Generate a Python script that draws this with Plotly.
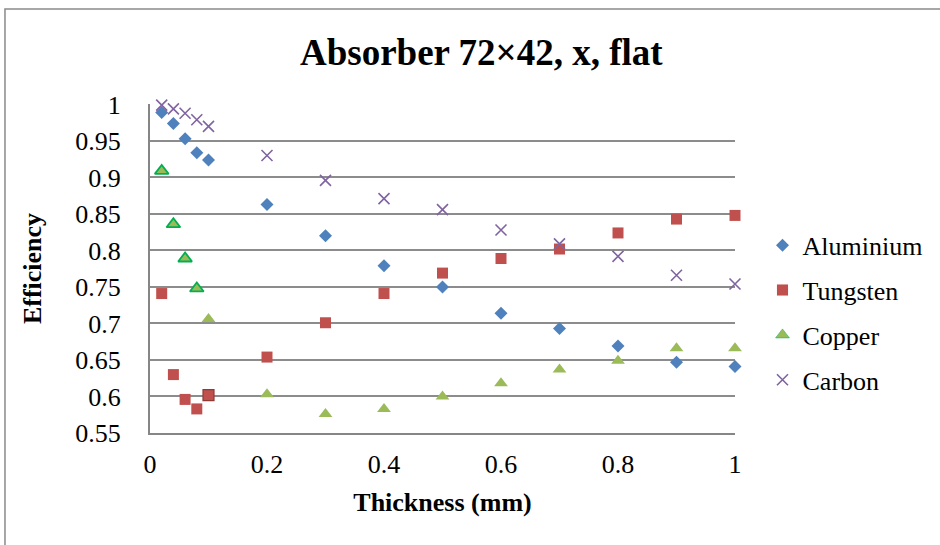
import plotly.graph_objects as go

thickness = [0.02, 0.04, 0.06, 0.08, 0.1, 0.2, 0.3, 0.4, 0.5, 0.6, 0.7, 0.8, 0.9, 1.0]
aluminium = [0.989, 0.974, 0.953, 0.934, 0.924, 0.863, 0.820, 0.779, 0.750, 0.714, 0.693, 0.669, 0.647, 0.641]
tungsten = [0.741, 0.630, 0.596, 0.583, 0.602, 0.654, 0.701, 0.741, 0.769, 0.789, 0.802, 0.824, 0.843, 0.848]
copper = [0.909, 0.836, 0.789, 0.748, 0.706, 0.603, 0.576, 0.583, 0.600, 0.618, 0.637, 0.649, 0.666, 0.666]
carbon = [0.999, 0.994, 0.988, 0.979, 0.970, 0.930, 0.896, 0.871, 0.856, 0.828, 0.809, 0.792, 0.766, 0.754]
series_names = ["Aluminium", "Tungsten", "Copper", "Carbon"]

y_ticks = [0.55, 0.6, 0.65, 0.7, 0.75, 0.8, 0.85, 0.9, 0.95, 1.0]
y_tick_text = ["0.55", "0.6", "0.65", "0.7", "0.75", "0.8", "0.85", "0.9", "0.95", "1"]
x_ticks = [0, 0.2, 0.4, 0.6, 0.8, 1.0]
x_tick_text = ["0", "0.2", "0.4", "0.6", "0.8", "1"]

FONT = "Liberation Serif"

copper_line_colors = ["#00B050"] * 4 + ["#9BBB59"] * 10
copper_line_widths = [1.8] * 4 + [0] * 10
tungsten_line_colors = ["#C0504D"] * 4 + ["#8E3B38"] + ["#C0504D"] * 9
tungsten_line_widths = [0] * 4 + [1.2] + [0] * 9

fig = go.Figure()
fig.add_trace(go.Scatter(x=thickness, y=aluminium, mode="markers", name=series_names[0],
                         legendgroup="a", cliponaxis=False,
                         marker=dict(symbol="diamond", size=10, color="#4F81BD", line=dict(width=0))))
fig.add_trace(go.Scatter(x=thickness, y=tungsten, mode="markers", name=series_names[1],
                         legendgroup="b", cliponaxis=False,
                         marker=dict(symbol="square", size=11, color="#C0504D",
                                     line=dict(width=tungsten_line_widths, color=tungsten_line_colors))))
fig.add_trace(go.Scatter(x=thickness, y=copper, mode="markers", name=series_names[2],
                         legendgroup="c", cliponaxis=False,
                         marker=dict(symbol="triangle-up", size=12, color="#9BBB59",
                                     line=dict(width=copper_line_widths, color=copper_line_colors))))
fig.add_trace(go.Scatter(x=thickness, y=carbon, mode="markers", name=series_names[3],
                         legendgroup="d", cliponaxis=False,
                         marker=dict(symbol="x-thin", size=11, color="#8064A2",
                                     line=dict(width=1.6, color="#8064A2"))))

fig.update_layout(
    width=940, height=545,
    margin=dict(l=150, r=205, t=104, b=112),
    paper_bgcolor="white", plot_bgcolor="white",
    font=dict(family=FONT, size=26, color="black"),
    title=dict(text="<b>Absorber 72×42, x, flat</b>", x=0.512, xanchor="center",
               y=0.905, yanchor="middle", yref="container",
               font=dict(family=FONT, size=37, color="black")),
    showlegend=True,
    legend=dict(x=1.047, xanchor="left", y=0.365, yanchor="middle",
                traceorder="grouped", tracegroupgap=8,
                font=dict(family=FONT, size=26, color="black"),
                itemwidth=30, bgcolor="rgba(0,0,0,0)"),
    xaxis=dict(range=[0, 1], tickvals=x_ticks, ticktext=x_tick_text,
               showgrid=False, zeroline=False, showline=True,
               linecolor="#868686", linewidth=2, ticks="",
               ticklabelstandoff=7,
               tickfont=dict(family=FONT, size=26, color="black"),
               title=dict(text="<b>Thickness (mm)</b>", standoff=15,
                          font=dict(family=FONT, size=26, color="black"))),
    yaxis=dict(range=[0.55, 1.0006], tickvals=y_ticks, ticktext=y_tick_text,
               showgrid=True, gridcolor="#8C8C8C", gridwidth=1.6,
               zeroline=False, showline=True,
               linecolor="#868686", linewidth=2, ticks="",
               ticklabelstandoff=22,
               tickfont=dict(family=FONT, size=26, color="black"),
               title=dict(text="<b>Efficiency</b>", standoff=26,
                          font=dict(family=FONT, size=26, color="black"))),
    shapes=[dict(type="rect", xref="paper", yref="paper",
                 x0=-0.2479, x1=1.37, y0=-0.40, y1=1.2888,
                 line=dict(color="#8A8A8A", width=1.5), fillcolor="rgba(0,0,0,0)",
                 layer="above")],
)

fig.write_html("out.html")
